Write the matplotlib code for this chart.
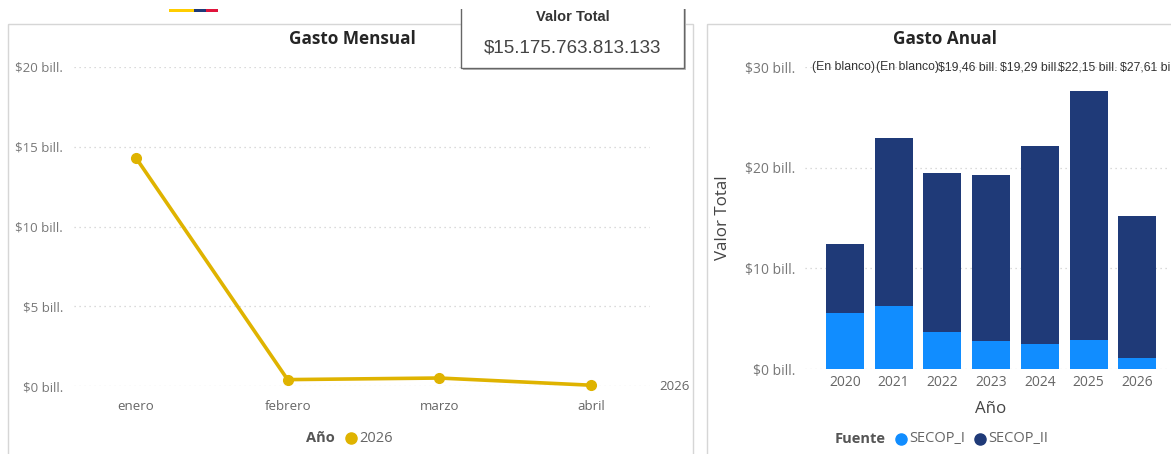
import matplotlib
matplotlib.use('Agg')
import matplotlib.pyplot as plt
from matplotlib.patches import Rectangle

# data, in billones
meses = ['enero', 'febrero', 'marzo', 'abril']
gasto_mensual = [14.3, 0.4, 0.5, 0.05]

anios = ['2020', '2021', '2022', '2023', '2024', '2025', '2026']
secop_i = [5.56, 6.3, 3.7, 2.8, 2.5, 2.85, 1.1]
secop_ii = [6.84, 16.6, 15.76, 16.49, 19.65, 24.76, 14.08]
etiquetas = ['(En blanco)', '(En blanco)', '$19,46 bill.', '$19,29 bill.', '$22,15 bill.', '$27,61 bill.']
etiquetas_px = [844, 908, 968, 1030, 1088, 1150]

ticks_mes = [0, 5, 10, 15, 20]
ticks_anio = [0, 10, 20, 30]

AMARILLO = '#DFB300'
AZUL = '#118DFF'
MARINO = '#1F3A78'
GRIS = '#666666'
W, H = 1171, 454

plt.rcParams['font.family'] = ['Open Sans', 'DejaVu Sans']
fig = plt.figure(figsize=(W / 100, H / 100), dpi=100)


def ejes(x0, x1, y0, y1):
    # y0 is the top pixel, y1 the bottom pixel
    return fig.add_axes([x0 / W, 1 - y1 / H, (x1 - x0) / W, (y1 - y0) / H])


def estilo(ax, ticks, size, pad):
    for s in ax.spines.values():
        s.set_visible(False)
    ax.set_yticks(ticks)
    ax.set_yticklabels(['$%d bill.' % t for t in ticks], color='#777777', fontsize=size)
    ax.grid(axis='y', color='#cfcfcf', linestyle=(0, (1, 3)), linewidth=0.9)
    ax.set_axisbelow(True)
    ax.tick_params(length=0)
    ax.tick_params(axis='y', pad=pad)


# left chart
ax1 = ejes(74, 650, 67, 386)
ax1.plot(range(len(meses)), gasto_mensual, color=AMARILLO, linewidth=2.6, marker='o', markersize=7,
         solid_capstyle='round', clip_on=False, zorder=3)
ax1.set_xlim(-0.409, 3.39)
ax1.set_ylim(0, 20)
estilo(ax1, ticks_mes, 9.5, 8)
ax1.set_xticks(range(len(meses)))
ax1.set_xticklabels(meses, color=GRIS, fontsize=9.5)
ax1.tick_params(axis='x', pad=10)

# right chart
ax2 = ejes(805, 1168, 67, 369)
pos = list(range(len(anios)))
ax2.bar(pos, secop_i, width=0.78, color=AZUL, label='SECOP_I')
ax2.bar(pos, secop_ii, width=0.78, bottom=secop_i, color=MARINO, label='SECOP_II')
ax2.set_xlim(-0.82, 6.63)
ax2.set_ylim(0, 30)
estilo(ax2, ticks_anio, 10, 7)
ax2.set_xticks(pos)
ax2.set_xticklabels(anios, color=GRIS, fontsize=10)
ax2.tick_params(axis='x', pad=4)

# overlay in pixel coordinates for the frames, card and legends
ov = fig.add_axes([0, 0, 1, 1], zorder=5)
ov.set_xlim(0, W)
ov.set_ylim(H, 0)
ov.axis('off')
ov.patch.set_alpha(0)

ov.add_patch(Rectangle((8, 24), 685, 440, fill=False, edgecolor='#d6d6d6', linewidth=1))
ov.add_patch(Rectangle((707, 24), 480, 440, fill=False, edgecolor='#d6d6d6', linewidth=1))

# card, its top edge is cropped away in the screenshot
ov.add_patch(Rectangle((463, -5), 223, 75, facecolor='#bbbbbb', edgecolor='none'))
ov.add_patch(Rectangle((461, -5), 223, 73, facecolor='white', edgecolor='#666666', linewidth=1))
ov.add_patch(Rectangle((0, 0), W, 9, facecolor='white', edgecolor='none'))

# flag stripe at the top
ov.add_patch(Rectangle((169, 9), 25, 3, color='#FFCD00', linewidth=0))
ov.add_patch(Rectangle((194, 9), 12, 3, color='#1F3A78', linewidth=0))
ov.add_patch(Rectangle((206, 9), 12, 3, color='#E0143C', linewidth=0))

ov.text(573, 17, 'Valor Total', ha='center', va='center', fontsize=10.5, color='#333333',
        family=['Liberation Sans'], fontweight='bold')
ov.text(573, 48, '$15.175.763.813.133', ha='center', va='center', fontsize=13.5, color='#444444',
        family=['Liberation Sans'])

ov.text(352, 39, 'Gasto Mensual', ha='center', va='center', fontsize=12.3, fontweight='bold', color='#252525')
ov.text(945, 39, 'Gasto Anual', ha='center', va='center', fontsize=12.3, fontweight='bold', color='#252525')

ov.text(674, 386, '2026', ha='center', va='center', fontsize=9.5, color=GRIS)

# left legend
ov.text(320, 438, 'Año', ha='center', va='center', fontsize=10.5, fontweight='bold', color='#555555')
ov.plot([351], [438], 'o', color=AMARILLO, markersize=8)
ov.text(359, 438, '2026', ha='left', va='center', fontsize=10.5, color=GRIS)

# right axis titles and legend
ov.text(723, 218, 'Valor Total', rotation=90, ha='center', va='center', fontsize=12.2, color='#444444')
ov.text(991, 409, 'Año', ha='center', va='center', fontsize=12.2, color='#444444')
ov.text(860, 439, 'Fuente', ha='center', va='center', fontsize=10.5, fontweight='bold', color='#555555')
ov.plot([901], [439], 'o', color=AZUL, markersize=8)
ov.text(909, 439, 'SECOP_I', ha='left', va='center', fontsize=10.5, color=GRIS)
ov.plot([980], [439], 'o', color=MARINO, markersize=8)
ov.text(988, 439, 'SECOP_II', ha='left', va='center', fontsize=10.5, color=GRIS)

# total labels, packed along the top of the right chart
for txt, x in zip(etiquetas, etiquetas_px):
    ov.text(x, 67, txt, ha='center', va='center', fontsize=8.8, color='#333333',
            family=['Liberation Sans'])

fig.savefig('out.png', dpi=100)
